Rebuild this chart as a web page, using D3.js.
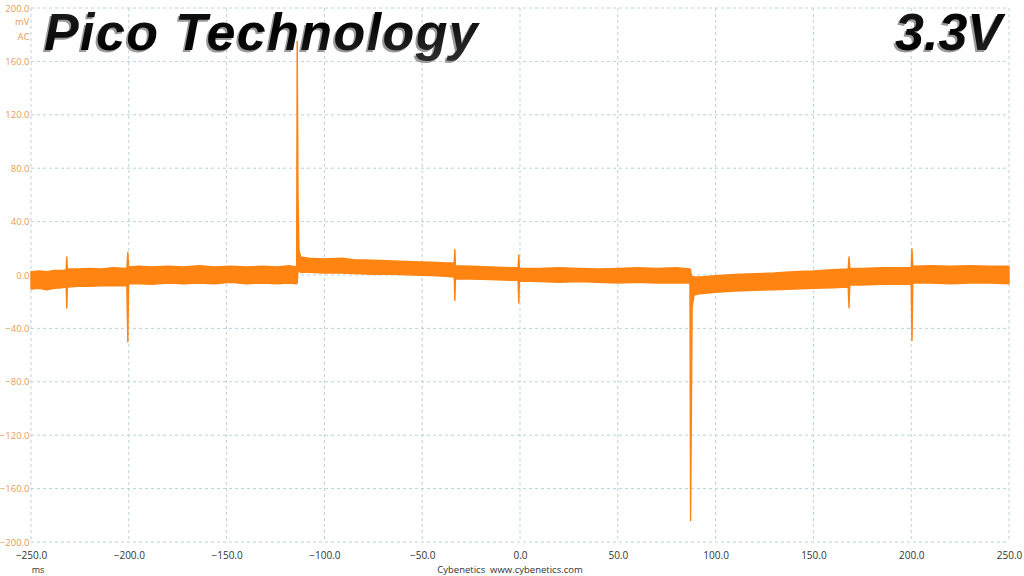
<!DOCTYPE html>
<html>
<head>
<meta charset="utf-8">
<script src="https://cdn.jsdelivr.net/npm/d3@7"></script>
<style>
  html, body { margin: 0; padding: 0; background: #fff; }
  svg { display: block; }
</style>
</head>
<body>
<svg id="chart" width="1024" height="576"></svg>
<script>
const timeMs = [
  -250, -246, -242, -238, -234, -232.0, -231.7, -231.4, -226, -220, -214, -208,
  -201.0, -200.5, -200.1, -195, -188, -180, -172, -164, -156, -148, -140, -132,
  -124, -118, -114.2, -113.9, -113.5, -113.0, -112.2, -108, -100, -91, -85, -75,
  -65, -55, -45, -38, -33.6, -33.3, -33.0, -25, -15, -5, -1.0, -0.6, -0.3, 10,
  20, 30, 40, 50, 60, 70, 80, 86.9, 87.2, 87.6, 88.0, 89, 92, 100, 110, 120,
  130, 140, 150, 160, 167.8, 168.2, 168.6, 175, 185, 195, 200.0, 200.4, 200.8, 210,
  220, 230, 240, 250
];
const upperMv = [
  2.5, 3, 2.5, 3.5, 3.5, 4, 13.5, 4.5, 4.5, 5, 4.5, 5.5,
  5, 17, 6, 6.5, 6, 6.5, 6, 7, 6, 6.5, 6, 6.5,
  6, 7, 6, 175, 61, 19, 13.5, 12.5, 12, 12.5, 11.5, 11,
  10.5, 10, 9.5, 9, 9, 19, 7, 6.5, 6, 5.5, 5.5, 15, 5, 5,
  5.5, 5, 4.5, 5, 5.5, 5, 5.5, 4.5, 4, -1, -1, -1.5, -1.5, -0.5, 0.5, 1,
  1.5, 2.5, 3, 4, 4.5, 13.5, 5, 5, 5.5, 5.5, 5.5, 19.5, 6.5, 7,
  6.5, 7, 6.5, 6.5
];
const lowerMv = [
  -10.5, -10, -11, -10, -9.5, -9, -24.7, -9, -8.5, -8.5, -8, -8,
  -8, -50, -6.5, -6.5, -7, -6, -6.5, -6, -6.5, -5.5, -6.5, -6,
  -6.5, -6, -6.5, -6, 3, 3, 2, 2, 1.5, 1.5, 1, 0.5,
  0.5, 0, -0.5, -1, -1.5, -19, -3, -3, -3.5, -4, -4, -21, -4.5, -5,
  -5.5, -5, -5.5, -6, -5.5, -6, -6, -6, -184, -105, -24, -15, -14, -13, -12, -11.5,
  -11, -10.5, -10, -9.5, -9, -24.5, -7.5, -7.5, -7, -7, -7, -49, -6, -6,
  -6.5, -6, -6, -6.5
];

const xTicks = [-250, -200, -150, -100, -50, 0, 50, 100, 150, 200, 250];
const yTicks = [200, 160, 120, 80, 40, 0, -40, -80, -120, -160, -200];

const svg = d3.select("#chart");
const plotLeft = 31, plotRight = 1009, plotTop = 8, plotBottom = 542;

const x = d3.scaleLinear().domain([-250, 250]).range([plotLeft, plotRight]);
const y = d3.scaleLinear().domain([-200, 200]).range([plotBottom, plotTop]);

const gridColor = "#b9d3dc";
const traceColor = "#ff8412";
const yLabelColor = "#e79b5c";

// grid
const grid = svg.append("g");
grid.selectAll("line.v")
  .data(xTicks)
  .join("line")
  .attr("class", "v")
  .attr("x1", (d) => x(d)).attr("x2", (d) => x(d))
  .attr("y1", plotTop).attr("y2", plotBottom)
  .attr("stroke", gridColor)
  .attr("stroke-dasharray", "3,3");

grid.selectAll("line.h")
  .data(yTicks)
  .join("line")
  .attr("class", "h")
  .attr("x1", plotLeft).attr("x2", plotRight)
  .attr("y1", (d) => y(d)).attr("y2", (d) => y(d))
  .attr("stroke", gridColor)
  .attr("stroke-dasharray", "3,3");

// trace envelope
const env = timeMs.map((t, i) => ({ t, hi: upperMv[i], lo: lowerMv[i] }));

const area = d3.area()
  .x((d) => x(d.t))
  .y0((d) => y(d.lo))
  .y1((d) => y(d.hi));

svg.append("path")
  .datum(env)
  .attr("d", area)
  .attr("fill", traceColor)
  .attr("stroke", traceColor)
  .attr("stroke-width", 1.4)
  .attr("stroke-linejoin", "round");

// axes
const fmt = d3.format(".1f");

const xAxis = svg.append("g")
  .attr("transform", `translate(0,${plotBottom})`)
  .call(d3.axisBottom(x).tickValues(xTicks).tickFormat(fmt).tickSize(0).tickPadding(10));
xAxis.select(".domain").remove();
xAxis.selectAll("text")
  .attr("fill", "#333")
  .attr("font-family", "Open Sans, sans-serif")
  .attr("font-size", 10);

const yAxis = svg.append("g")
  .attr("transform", `translate(${plotLeft - 1.5},0)`)
  .call(d3.axisLeft(y).tickValues(yTicks).tickFormat(fmt).tickSize(0).tickPadding(0));
yAxis.select(".domain").remove();
yAxis.selectAll("text")
  .attr("fill", yLabelColor)
  .attr("font-family", "Open Sans, sans-serif")
  .attr("font-size", 9.5);

svg.append("text")
  .attr("x", plotLeft - 1.5).attr("y", 25)
  .attr("text-anchor", "end")
  .attr("fill", yLabelColor)
  .attr("font-family", "Open Sans, sans-serif")
  .attr("font-size", 9.5)
  .text("mV");

svg.append("text")
  .attr("x", plotLeft - 1.5).attr("y", 40)
  .attr("text-anchor", "end")
  .attr("fill", yLabelColor)
  .attr("font-family", "Open Sans, sans-serif")
  .attr("font-size", 9.5)
  .text("AC");

svg.append("text")
  .attr("x", 38).attr("y", 573)
  .attr("text-anchor", "middle")
  .attr("fill", "#333")
  .attr("font-family", "Open Sans, sans-serif")
  .attr("font-size", 9)
  .text("ms");

svg.append("text")
  .attr("x", 510).attr("y", 573)
  .attr("text-anchor", "middle")
  .attr("fill", "#333")
  .attr("font-family", "Open Sans, sans-serif")
  .attr("font-size", 9.5)
  .attr("xml:space", "preserve")
  .text("Cybenetics  www.cybenetics.com");

// titles with a bevelled look
const defs = svg.append("defs");
const grad = defs.append("linearGradient")
  .attr("id", "titleGrad")
  .attr("x1", "0%").attr("x2", "100%")
  .attr("y1", "0%").attr("y2", "100%");
grad.append("stop").attr("offset", "0%").attr("stop-color", "#222");
grad.append("stop").attr("offset", "50%").attr("stop-color", "#000");
grad.append("stop").attr("offset", "100%").attr("stop-color", "#333");

function drawTitle(txt, tx, ty, anchor, spacing) {
  const g = svg.append("g")
    .attr("font-family", "Liberation Sans, Arial, sans-serif")
    .attr("font-weight", "bold")
    .attr("font-style", "italic")
    .attr("font-size", 52)
    .attr("letter-spacing", spacing)
    .attr("text-anchor", anchor);
  g.append("text").attr("x", tx - 2).attr("y", ty + 2).attr("fill", "#9a9a9a").text(txt);
  g.append("text").attr("x", tx).attr("y", ty).attr("fill", "url(#titleGrad)").text(txt);
}

drawTitle("Pico Technology", 44, 50, "start", 1.4);
drawTitle("3.3V", 1002, 50, "end", 0);
</script>
</body>
</html>
